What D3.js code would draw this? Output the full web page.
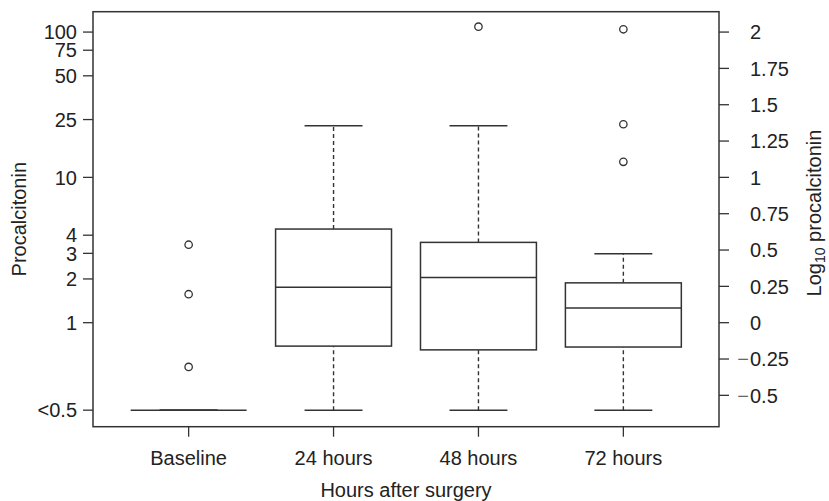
<!DOCTYPE html>
<html>
<head>
<meta charset="utf-8">
<script src="https://cdn.jsdelivr.net/npm/d3@7"></script>
<style>
  body { margin: 0; background: #fff; }
  text { font-family: "Liberation Sans", Arial, sans-serif; fill: #222; }
</style>
</head>
<body>
<div id="chart"></div>
<script>
var groups = ["Baseline", "24 hours", "48 hours", "72 hours"];
// procalcitonin values; 0.25 stands for "<0.5"
var lowWhisker = [0.25, 0.25, 0.25, 0.25];
var q1 = [0.25, 0.69, 0.65, 0.68];
var median = [0.25, 1.75, 2.05, 1.26];
var q3 = [0.25, 4.41, 3.57, 1.88];
var highWhisker = [0.25, 22.7, 22.7, 2.98];
var outliers = [[3.44, 1.57, 0.496], [], [108.9], [104.5, 23.2, 12.8]];

var leftTicks = [0.25, 1, 2, 3, 4, 10, 25, 50, 75, 100];
var leftTickLabels = ["<0.5", "1", "2", "3", "4", "10", "25", "50", "75", "100"];
var rightTicks = [-0.5, -0.25, 0, 0.25, 0.5, 0.75, 1, 1.25, 1.5, 1.75, 2];

var width = 829, height = 501;
var plot = { left: 93, right: 719, top: 11.7, bottom: 426.7 };
var fontSize = 20;

var svg = d3.select("#chart").append("svg")
  .attr("width", width)
  .attr("height", height);

var x = d3.scaleLinear().domain([0.34, 4.66]).range([plot.left, plot.right]);
var y = d3.scaleLog().domain([0.1924, 138.1]).range([plot.bottom, plot.top]);
var yLog = d3.scaleLinear()
  .domain([Math.log10(0.1924), Math.log10(138.1)])
  .range([plot.bottom, plot.top]);

var boxW = x(1.4) - x(1);
var capW = x(1.2) - x(1);
var stroke = "#333";

var g = svg.append("g");

groups.forEach(function (name, i) {
  var cx = x(i + 1);
  // whiskers
  [[lowWhisker[i], q1[i]], [q3[i], highWhisker[i]]].forEach(function (w) {
    g.append("line")
      .attr("x1", cx).attr("x2", cx)
      .attr("y1", y(w[0])).attr("y2", y(w[1]))
      .attr("stroke", stroke).attr("stroke-width", 1.4)
      .attr("stroke-dasharray", "4,3");
  });
  [lowWhisker[i], highWhisker[i]].forEach(function (v) {
    g.append("line")
      .attr("x1", cx - capW).attr("x2", cx + capW)
      .attr("y1", y(v)).attr("y2", y(v))
      .attr("stroke", stroke).attr("stroke-width", 1.5);
  });
  g.append("rect")
    .attr("x", cx - boxW).attr("width", boxW * 2)
    .attr("y", y(q3[i])).attr("height", y(q1[i]) - y(q3[i]))
    .attr("fill", "#fff").attr("stroke", stroke).attr("stroke-width", 1.5);
  g.append("line")
    .attr("x1", cx - boxW).attr("x2", cx + boxW)
    .attr("y1", y(median[i])).attr("y2", y(median[i]))
    .attr("stroke", stroke).attr("stroke-width", 1.5);
  outliers[i].forEach(function (v) {
    g.append("circle")
      .attr("cx", cx).attr("cy", y(v)).attr("r", 3.7)
      .attr("fill", "none").attr("stroke", stroke).attr("stroke-width", 1.3);
  });
});

// frame
svg.append("rect")
  .attr("x", plot.left).attr("y", plot.top)
  .attr("width", plot.right - plot.left).attr("height", plot.bottom - plot.top)
  .attr("fill", "none").attr("stroke", stroke).attr("stroke-width", 1.5);

// left axis
var left = svg.append("g");
leftTicks.forEach(function (v, i) {
  left.append("line")
    .attr("x1", plot.left - 10).attr("x2", plot.left)
    .attr("y1", y(v)).attr("y2", y(v))
    .attr("stroke", stroke).attr("stroke-width", 1.3);
  left.append("text")
    .attr("x", plot.left - 16).attr("y", y(v))
    .attr("dy", "0.36em")
    .attr("text-anchor", "end")
    .attr("font-size", fontSize)
    .text(leftTickLabels[i]);
});

// right axis
var right = svg.append("g");
rightTicks.forEach(function (v) {
  right.append("line")
    .attr("x1", plot.right).attr("x2", plot.right + 10)
    .attr("y1", yLog(v)).attr("y2", yLog(v))
    .attr("stroke", stroke).attr("stroke-width", 1.3);
  right.append("text")
    .attr("x", plot.right + 31).attr("y", yLog(v))
    .attr("dy", "0.36em")
    .attr("font-size", fontSize)
    .text(String(Math.abs(v)));
  if (v < 0) {
    right.append("text")
      .attr("x", plot.right + 30).attr("y", yLog(v))
      .attr("dy", "0.36em")
      .attr("text-anchor", "end")
      .attr("font-size", fontSize)
      .style("fill", "#666")
      .text("\u2212");
  }
});

// bottom axis
var bottom = svg.append("g");
groups.forEach(function (name, i) {
  bottom.append("line")
    .attr("x1", x(i + 1)).attr("x2", x(i + 1))
    .attr("y1", plot.bottom).attr("y2", plot.bottom + 10)
    .attr("stroke", stroke).attr("stroke-width", 1.3);
  bottom.append("text")
    .attr("x", x(i + 1)).attr("y", 465)
    .attr("text-anchor", "middle")
    .attr("font-size", fontSize)
    .text(name);
});

// axis titles
svg.append("text")
  .attr("x", (plot.left + plot.right) / 2).attr("y", 497)
  .attr("text-anchor", "middle")
  .attr("font-size", fontSize)
  .text("Hours after surgery");

svg.append("text")
  .attr("transform", "translate(26," + (plot.top + plot.bottom) / 2 + ") rotate(-90)")
  .attr("text-anchor", "middle")
  .attr("font-size", fontSize)
  .text("Procalcitonin");

var rt = svg.append("text")
  .attr("transform", "translate(821,213) rotate(-90)")
  .attr("text-anchor", "middle")
  .attr("font-size", fontSize);
rt.append("tspan").text("Log");
rt.append("tspan").attr("font-size", 14).attr("dy", 4).text("10");
rt.append("tspan").attr("dy", -4).text(" procalcitonin");
</script>
</body>
</html>
